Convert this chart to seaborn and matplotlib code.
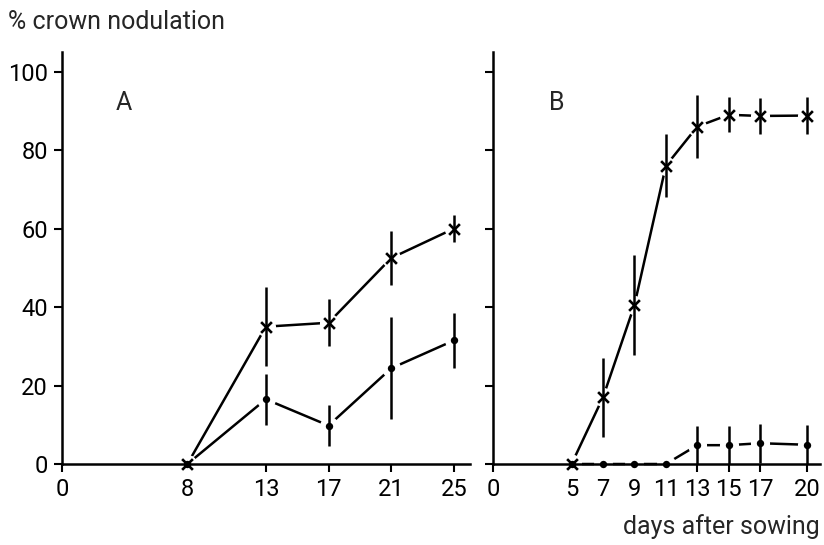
import numpy as np
import pandas as pd
import seaborn as sns
import matplotlib.pyplot as plt

# Panel A: harvest days and % crown nodulation (mean, error half-width)
days_a = [8, 13, 17, 21, 25]
cross_a = [0, 35, 36, 52.5, 60]
cross_a_err = [0, 10, 6, 7, 3.5]
dot_a = [0, 16.5, 9.8, 24.4, 31.5]
dot_a_err = [0, 6.5, 5.3, 13, 7]

# Panel B
days_b = [5, 7, 9, 11, 13, 15, 17, 20]
cross_b = [0, 17, 40.5, 76, 86, 89, 88.7, 88.8]
cross_b_err = [0, 10, 12.7, 8, 8, 4.5, 4.5, 4.8]
dot_b = [0, 0, 0, 0, 4.8, 4.8, 5.3, 4.9]
dot_b_err = [0, 0, 0, 0, 5, 5, 5, 5]

ticks_a = [0, 8, 13, 17, 21, 25]
ticks_b = [0, 5, 7, 9, 11, 13, 15, 17, 20]
yticks = [0, 20, 40, 60, 80, 100]

sns.set_theme(style="ticks")
plt.rcParams["font.family"] = ["Roboto", "DejaVu Sans"]

LW = 1.8
FS = 17
fig = plt.figure(figsize=(8.24, 5.45), dpi=100)
ax_a = fig.add_axes([0.0752, 0.1486, 0.4948, 0.756])
ax_b = fig.add_axes([0.5983, 0.1486, 0.3967, 0.756])


def draw_series(ax, x, y, err, marker, msize):
    df = pd.DataFrame({"day": x, "pct": y})
    sns.lineplot(data=df, x="day", y="pct", ax=ax, color="black",
                 linewidth=LW, zorder=2, clip_on=False)
    # white halo so connecting lines stop short of each marker
    sns.scatterplot(data=df, x="day", y="pct", ax=ax, color="white",
                    s=190, linewidth=0, zorder=3, clip_on=False)
    xs = [xi for xi, e in zip(x, err) if e > 0]
    lo = [yi - e for yi, e in zip(y, err) if e > 0]
    hi = [yi + e for yi, e in zip(y, err) if e > 0]
    ax.vlines(xs, lo, hi, color="black", linewidth=LW, zorder=4)
    if marker == "x":
        sns.scatterplot(data=df, x="day", y="pct", ax=ax, marker="x",
                        color="black", s=60, linewidth=1.9, zorder=5,
                        clip_on=False)
    else:
        sns.scatterplot(data=df, x="day", y="pct", ax=ax, marker="o",
                        color="black", s=msize, linewidth=0, zorder=5,
                        clip_on=False)


draw_series(ax_a, days_a, cross_a, cross_a_err, "x", 60)
draw_series(ax_a, days_a, dot_a, dot_a_err, "o", 28)
draw_series(ax_b, days_b, cross_b, cross_b_err, "x", 60)
draw_series(ax_b, days_b, dot_b, dot_b_err, "o", 28)

for ax, xmax, ticks in [(ax_a, 26, ticks_a), (ax_b, 20.8, ticks_b)]:
    ax.set_xlim(0, xmax)
    ax.set_ylim(0, 105)
    ax.set_xticks(ticks)
    ax.set_yticks(yticks)
    ax.set_xlabel("")
    ax.set_ylabel("")
    for side in ["top", "right"]:
        ax.spines[side].set_visible(False)
    for side in ["left", "bottom"]:
        ax.spines[side].set_linewidth(LW)
        ax.spines[side].set_color("black")
        ax.spines[side].set_zorder(4.5)
    ax.tick_params(direction="out", length=6, width=1.5, color="black",
                   labelsize=FS, labelcolor="black", pad=4)
    ax.set_facecolor("white")

ax_b.set_yticklabels([])

ax_a.text(3.95, 92, "A", fontsize=FS + 1, ha="center", va="center")
ax_b.text(4.05, 92, "B", fontsize=FS + 1, ha="center", va="center")

fig.text(8 / 824, 1 - 22 / 545, "% crown nodulation", fontsize=FS + 1,
         ha="left", va="center")
fig.text(820 / 824, 1 - 527 / 545, "days after sowing", fontsize=FS + 1,
         ha="right", va="center")

fig.savefig("out.png", dpi=100, facecolor="white")
